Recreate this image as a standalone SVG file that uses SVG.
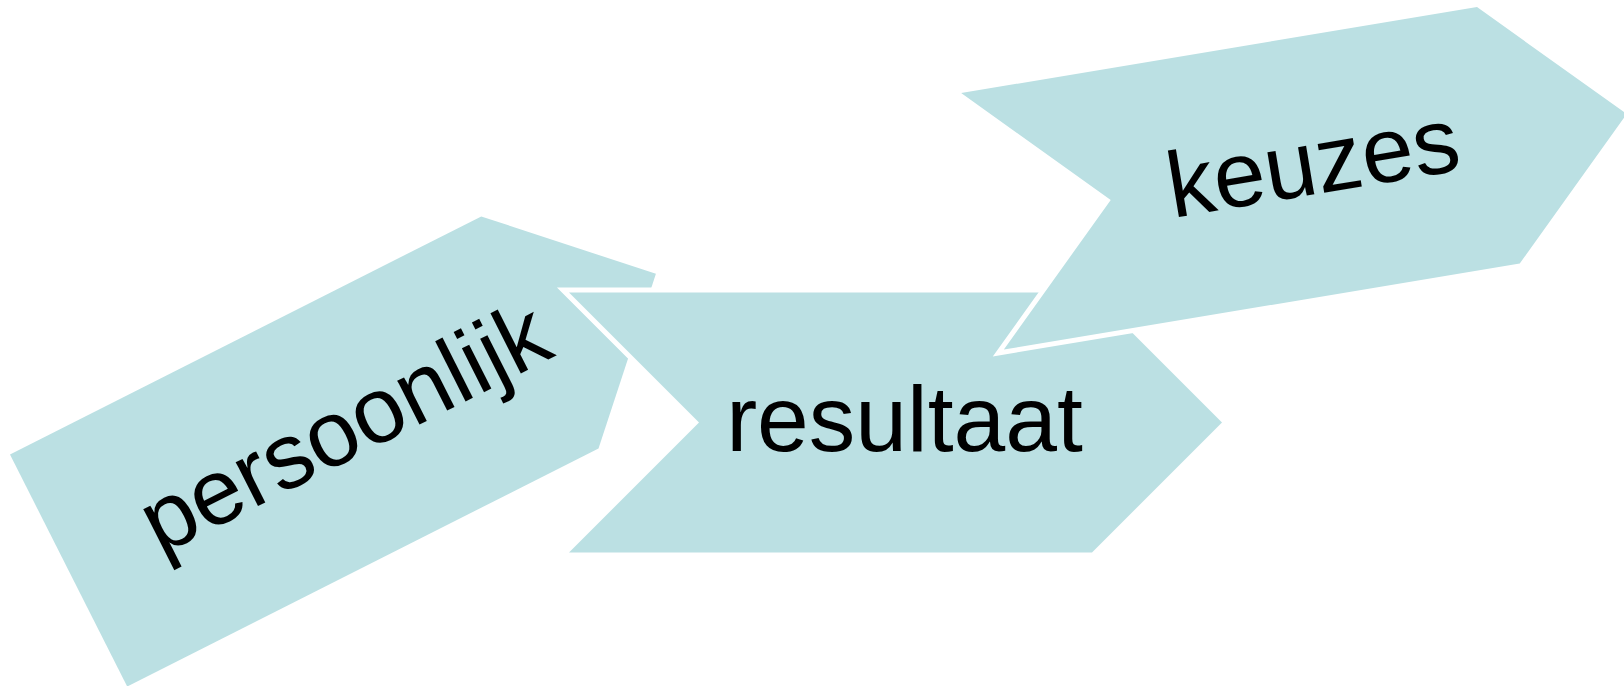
<svg xmlns="http://www.w3.org/2000/svg" width="1624" height="686" viewBox="0 0 1624 686">
<style>
.shape{fill:#BBE0E3;stroke:#FFFFFF;stroke-width:10;stroke-linejoin:miter;stroke-miterlimit:4;paint-order:stroke fill}
.label{font-family:"Liberation Sans",Arial,sans-serif;font-size:93px;fill:#000000;text-anchor:middle}
</style>
<rect width="1624" height="686" fill="#FFFFFF"/>
<g id="persoonlijk" transform="translate(68.6,570.5) rotate(-26.8)">
<polygon class="shape" points="0,-130 528,-130 658,0 528,130 0,130"/>
<text class="label" x="310.5" y="28">persoonlijk</text>
</g>
<g id="resultaat" transform="translate(569,422.5)">
<polygon class="shape" points="0,-130 523,-130 653,0 523,130 0,130 130,0"/>
<text class="label" x="335.5" y="28">resultaat</text>
</g>
<g id="keuzes" transform="translate(982.5,221.3) rotate(-9.46)">
<polygon class="shape" points="0,-130 523,-130 653,0 523,130 0,130 130,0"/>
<text class="label" x="335.5" y="28">keuzes</text>
</g>
<g id="connectors"></g>
</svg>
